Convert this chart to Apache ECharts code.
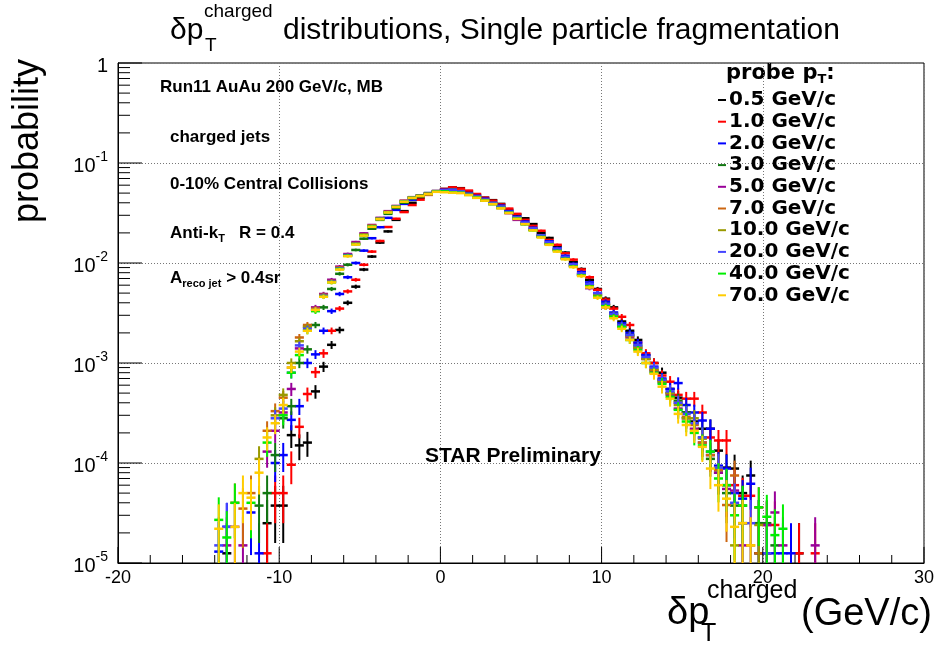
<!DOCTYPE html>
<html><head><meta charset="utf-8">
<script src="https://cdn.jsdelivr.net/npm/echarts@6/dist/echarts.min.js"></script>
<style>html,body{margin:0;padding:0;background:#fff}#c{width:937px;height:650px}</style>
</head><body><div id="c"></div>
<script>
// ---------------- data ----------------
const binCenters = [
 -13.75,-13.25,-12.75,-12.25,-11.75,-11.25,-10.75,-10.25,-9.75,-9.25,
 -8.75,-8.25,-7.75,-7.25,-6.75,-6.25,-5.75,-5.25,-4.75,-4.25,
 -3.75,-3.25,-2.75,-2.25,-1.75,-1.25,-0.75,-0.25,0.25,0.75,
 1.25,1.75,2.25,2.75,3.25,3.75,4.25,4.75,5.25,5.75,
 6.25,6.75,7.25,7.75,8.25,8.75,9.25,9.75,10.25,10.75,
 11.25,11.75,12.25,12.75,13.25,13.75,14.25,14.75,15.25,15.75,
 16.25,16.75,17.25,17.75,18.25,18.75,19.25,19.75,20.25,20.75,
 21.25,21.75,22.25,22.75,23.25];

const probeLabels = ['0.5 GeV/c','1.0 GeV/c','2.0 GeV/c','3.0 GeV/c','5.0 GeV/c','7.0 GeV/c','10.0 GeV/c','20.0 GeV/c','40.0 GeV/c','70.0 GeV/c'];
const probeColors = ['#000000','#ff0000','#0000ff','#117711','#990099','#cc6611','#999900','#4444ff','#00ee00','#ffcc00'];

const p05 = [null,1.25e-5,null,null,null,null,2.5e-5,3.75e-5,3.75e-5,1.9e-4,
 1.5e-4,1.6e-4,5.2e-4,9.2e-4,1.52e-3,2.14e-3,4.0e-3,5.8e-3,8.6e-3,1.16e-2,
 0.016,0.0207,0.027,0.033,0.040,0.045,0.049,0.052,0.055,0.057,
 0.056,0.052,0.048,0.045,0.0425,0.039,0.034,0.0305,0.028,0.0245,
 0.020,0.0178,0.0148,0.0127,0.0102,0.0087,0.0068,0.0055,0.0044,0.0036,
 0.0026,0.0021,0.0017,0.0012,0.0010,0.0008,0.00055,0.00045,0.00032,0.00026,
 0.00022,0.00022,0.000133,9e-5,8.8e-5,5e-5,7.5e-5,1.25e-5,1.25e-5,null,
 null,null,1.25e-5,null,null];
const p10 = [null,null,null,null,null,null,1.25e-5,5e-5,5e-5,9.6e-5,
 2.3e-4,4.9e-4,8.1e-4,1.25e-3,2.1e-3,3.5e-3,5.2e-3,6.8e-3,9.6e-3,0.013,
 0.0166,0.0229,0.0277,0.0323,0.038,0.043,0.048,0.052,0.055,0.057,
 0.0555,0.053,0.049,0.045,0.042,0.0385,0.035,0.031,0.027,0.0235,
 0.021,0.017,0.0152,0.0125,0.0108,0.0086,0.0072,0.0054,0.0043,0.0035,
 0.0029,0.0024,0.0016,0.00125,0.0010,0.00075,0.00065,0.00048,0.00044,0.00044,
 0.00032,0.00018,0.000168,0.000168,6e-5,4.7e-5,4.7e-5,3.6e-5,2.4e-5,2.4e-5,
 null,null,1.25e-5,null,1.25e-5];
const p20 = [1.3e-5,2.3e-5,null,null,3.2e-5,1.25e-5,null,1e-4,1.2e-4,2.7e-4,
 3.7e-4,1.0e-3,1.22e-3,2.1e-3,3.3e-3,4.9e-3,7.2e-3,0.010,0.0133,0.0177,
 0.0228,0.0283,0.034,0.039,0.043,0.047,0.050,0.0525,0.054,0.0545,
 0.052,0.050,0.047,0.044,0.040,0.0375,0.033,0.029,0.026,0.0225,
 0.019,0.0165,0.0141,0.0118,0.0098,0.0081,0.0064,0.005,0.0041,0.0032,
 0.0025,0.002,0.0016,0.0012,0.00092,0.0007,0.00055,0.00063,0.00038,0.00032,
 0.000266,0.00022,9.4e-5,8.8e-5,5e-5,4.4e-5,6.2e-5,2.5e-5,null,1.25e-5,
 1.25e-5,1.25e-5,null,null,null];
const p30 = [null,null,null,null,null,3.75e-5,5e-5,1.2e-4,2.8e-4,3.7e-4,
 1.0e-3,1.37e-3,2.4e-3,3.6e-3,5.5e-3,7.8e-3,9.6e-3,0.0135,0.0175,0.022,
 0.027,0.031,0.0355,0.040,0.0445,0.047,0.050,0.052,0.0535,0.054,
 0.051,0.049,0.0455,0.0425,0.039,0.036,0.032,0.028,0.025,0.0215,
 0.0186,0.0158,0.0136,0.0112,0.0094,0.0077,0.006,0.0048,0.0039,0.0031,
 0.0024,0.0019,0.0015,0.0011,0.00085,0.00068,0.0005,0.00042,0.00032,0.00025,
 0.00018,0.00011,8e-5,5e-5,3.75e-5,3.75e-5,null,2.5e-5,2.5e-5,1.5e-5,
 null,null,null,null,null];
const p50 = [null,1.5e-5,2.3e-5,1.5e-5,null,null,1.3e-4,2.1e-4,3.2e-4,5.5e-4,
 1.4e-3,2.3e-3,3.6e-3,4.9e-3,6.8e-3,9.2e-3,0.0123,0.0162,0.0198,0.024,
 0.0283,0.033,0.0372,0.042,0.0455,0.0475,0.0495,0.052,0.053,0.0535,
 0.0515,0.0485,0.0455,0.042,0.039,0.0355,0.0315,0.027,0.0245,0.0215,
 0.0183,0.0155,0.0135,0.0111,0.0094,0.0077,0.0056,0.0047,0.0036,0.003,
 0.0023,0.0018,0.0014,0.0011,0.00082,0.00064,0.00048,0.00035,0.00028,0.00022,
 0.00016,0.00012,8e-5,5.5e-5,5.3e-5,1.5e-5,null,null,2.4e-5,3.2e-5,
 1.5e-5,null,null,null,1.5e-5];
const p70 = [null,null,4e-5,3.5e-5,5e-5,null,2.1e-4,3.3e-4,4.5e-4,9e-4,
 1.8e-3,2.4e-3,3.5e-3,4.8e-3,6.6e-3,9.0e-3,0.012,0.0158,0.0193,0.0236,
 0.028,0.0325,0.037,0.0418,0.0455,0.0472,0.0495,0.0525,0.053,0.0535,
 0.051,0.0485,0.0452,0.0425,0.0395,0.0362,0.032,0.0282,0.025,0.0215,
 0.0185,0.0156,0.0136,0.0112,0.0095,0.0076,0.006,0.0048,0.0038,0.003,
 0.0023,0.00185,0.00142,0.0011,0.00085,0.00066,0.0005,0.0004,0.00029,0.00024,
 0.00016,0.00012,8.5e-5,3.8e-5,7.5e-5,2.5e-5,1.5e-5,1.25e-5,null,null,
 null,null,null,null,null];
const p100 = [null,null,null,null,null,1.1e-4,null,3e-4,4.8e-4,1.0e-3,
 1.65e-3,2.3e-3,3.4e-3,4.7e-3,6.5e-3,8.8e-3,0.0119,0.0156,0.019,0.0234,
 0.0277,0.0322,0.0366,0.0413,0.045,0.047,0.049,0.052,0.0532,0.0538,
 0.0515,0.049,0.046,0.0428,0.0398,0.0364,0.0322,0.0284,0.025,0.022,
 0.0188,0.016,0.0137,0.0113,0.0095,0.0077,0.006,0.0048,0.0038,0.003,
 0.0023,0.0019,0.00145,0.0011,0.00087,0.00066,0.0005,0.00038,0.00028,0.00028,
 0.000175,0.00013,9e-5,6e-5,1.5e-5,2.5e-5,null,2.4e-5,null,null,
 null,null,null,null,null];
const p200 = [1.5e-5,2.3e-5,null,null,null,null,null,2.8e-4,3.5e-4,8e-4,
 1.5e-3,2.2e-3,3.4e-3,4.7e-3,6.5e-3,8.8e-3,0.012,0.0155,0.019,0.0233,
 0.0276,0.0322,0.0366,0.0414,0.045,0.0468,0.049,0.052,0.0535,0.054,
 0.052,0.0492,0.0462,0.043,0.0398,0.0366,0.0325,0.0286,0.0254,0.0222,
 0.0189,0.0162,0.0139,0.0115,0.0097,0.0079,0.0062,0.005,0.0039,0.0031,
 0.0024,0.0019,0.0015,0.00115,0.0009,0.00068,0.00052,0.0004,0.00031,0.00025,
 0.00018,0.00013,9e-5,6e-5,4e-5,2.5e-5,2.5e-5,null,1.25e-5,null,
 null,null,null,null,null];
const p400 = [2.7e-5,1.8e-5,4e-5,null,4e-5,null,1.6e-4,null,3e-4,8e-4,
 1.2e-3,2.1e-3,3.3e-3,4.6e-3,6.4e-3,8.7e-3,0.0118,0.0154,0.019,0.0232,
 0.0275,0.032,0.0364,0.041,0.0448,0.0468,0.049,0.0518,0.052,0.051,
 0.0505,0.048,0.0452,0.0422,0.0388,0.0355,0.0318,0.0278,0.0244,0.0212,
 0.0182,0.0153,0.0132,0.011,0.0092,0.0075,0.0058,0.0046,0.0037,0.0029,
 0.0023,0.0017,0.00135,0.001,0.0008,0.00062,0.00046,0.00034,0.00026,0.0002,
 0.00015,0.00013,7e-5,6e-5,3e-5,3.75e-5,null,3.6e-5,2.9e-5,1.9e-5,
 2.2e-5,null,null,null,null];
const p700 = [2.2e-5,null,2.3e-5,5e-5,4.5e-5,8e-5,1.8e-4,2.5e-4,3.8e-4,9e-4,
 1.3e-3,2.1e-3,3.4e-3,4.6e-3,6.4e-3,8.6e-3,0.0117,0.0153,0.0188,0.023,
 0.0274,0.032,0.0363,0.041,0.0447,0.0466,0.0488,0.0515,0.051,0.0505,
 0.050,0.0478,0.0448,0.042,0.0388,0.0352,0.0316,0.0276,0.0245,0.0212,
 0.018,0.0152,0.013,0.0109,0.0091,0.0074,0.0057,0.0045,0.0036,0.0028,
 0.0022,0.0017,0.0013,0.001,0.00078,0.00058,0.00044,0.00031,0.00024,0.00021,
 0.000145,8.8e-5,6e-5,4.4e-5,2.3e-5,2.5e-5,1.5e-5,null,null,null,
 null,null,null,null,null];

const seriesValues = [p05,p10,p20,p30,p50,p70,p100,p200,p400,p700];
const ENTRIES = 80000;      // entries per histogram (for statistical error bars)
const HALF_BIN = 0.25;      // half bin width in GeV/c

const xMajorTicks = [-20,-10,0,10,20,30];
const xMinorTicks = [-18,-16,-14,-12,-8,-6,-4,-2,2,4,6,8,12,14,16,18,22,24,26,28];
const yDecades = [1e-5,1e-4,1e-3,1e-2,1e-1,1];
const yMinorMultipliers = [2,3,4,5,6,7,8,9];

const X_MIN = -20, X_MAX = 30, Y_MIN = 1e-5, Y_MAX = 1;
const FONT = 'Liberation Sans, Arial, Helvetica, sans-serif';

// ---------------- rendering ----------------
function renderCross(params, api) {
  const x = api.value(0), y = api.value(1);
  if (!(y > 0)) return null;
  const cs = params.coordSys;
  const bottom = cs.y + cs.height;
  const p = api.coord([x, y]);
  const xl = api.coord([x - HALF_BIN, y])[0];
  const xr = api.coord([x + HALF_BIN, y])[0];
  const err = Math.sqrt(y / ENTRIES);
  const yt = api.coord([x, y + err])[1];
  let yb = (y - err) > Y_MIN * 0.01 ? api.coord([x, y - err])[1] : bottom;
  yb = Math.min(yb, bottom);
  const color = api.visual('color');
  return {type: 'group', children: [
    {type: 'line', shape: {x1: xl - 0.5, y1: p[1], x2: xr + 0.5, y2: p[1]}, style: {stroke: color, lineWidth: 2.5}},
    {type: 'line', shape: {x1: p[0], y1: yt, x2: p[0], y2: yb}, style: {stroke: color, lineWidth: 2}}
  ]};
}

function renderTick(params, api) {
  const xv = api.value(0), yv = api.value(1), axis = api.value(2), major = api.value(3);
  const cs = params.coordSys;
  if (axis === 0) {
    const px = api.coord([xv, Y_MIN])[0];
    const len = major ? 16 : 8;
    const b = cs.y + cs.height;
    return {type: 'line', shape: {x1: px, y1: b, x2: px, y2: b - len}, style: {stroke: '#000', lineWidth: 1}};
  }
  const py = api.coord([X_MIN, yv])[1];
  const len = major ? 24 : 12;
  return {type: 'line', shape: {x1: cs.x, y1: py, x2: cs.x + len, y2: py}, style: {stroke: '#000', lineWidth: 1}};
}

const tickData = [];
xMajorTicks.forEach(v => tickData.push([v, Y_MIN, 0, 1]));
xMinorTicks.forEach(v => tickData.push([v, Y_MIN, 0, 0]));
yDecades.forEach(d => {
  tickData.push([X_MIN, d, 1, 1]);
  if (d < 1) yMinorMultipliers.forEach(m => tickData.push([X_MIN, m * d, 1, 0]));
});

const series = seriesValues.map((vals, k) => ({
  name: probeLabels[k],
  type: 'custom',
  renderItem: renderCross,
  clip: true,
  itemStyle: {color: probeColors[k]},
  encode: {x: 0, y: 1},
  data: binCenters.map((x, i) => [x, vals[i]]).filter(d => d[1] != null),
  z: 3 + k
}));
series.push({
  name: 'ticks', type: 'custom', renderItem: renderTick, clip: false, silent: true,
  encode: {x: 0, y: 1}, data: tickData, z: 20
});

const chart = echarts.init(document.getElementById('c'), null, {renderer: 'canvas'});

function txt(text, x, y, size, opts) {
  return Object.assign({type: 'text', x: x, y: y, silent: true, z: 50,
    style: Object.assign({text: text, fill: '#000', font: (opts && opts.bold ? 'bold ' : '') + size + 'px ' + FONT,
      align: 'left', verticalAlign: 'middle'}, opts && opts.style || {})}, opts && opts.el || {});
}

const subRich = {
  n: {fontSize: 17, fontWeight: 'bold', fontFamily: FONT, lineHeight: 17, padding: [0, 0, 0, 0]},
  sub: {fontSize: 11, fontWeight: 'bold', fontFamily: FONT, lineHeight: 11, padding: [12, 0, 0, 0]}
};

const graphics = [
  // title
  txt('δp', 170, 31, 30),
  txt('charged', 204, 12, 19),
  txt('T', 205, 46, 19),
  txt('distributions, Single particle fragmentation', 283, 31, 30),
  // y title
  {type: 'text', x: 28, y: 141, rotation: Math.PI / 2, silent: true,
   style: {text: 'probability', fill: '#000', font: '36px ' + FONT, align: 'center', verticalAlign: 'middle'}},
  // x title
  txt('δp', 667, 614, 38),
  txt('charged', 707, 591, 25),
  txt('T', 701, 634, 25),
  txt('(GeV/c)', 801, 615, 38),
  // annotations
  txt('Run11 AuAu 200 GeV/c, MB', 160, 87, 17, {bold: true}),
  txt('charged jets', 170, 137, 17, {bold: true}),
  txt('0-10% Central Collisions', 170, 184, 17, {bold: true}),
  {type: 'text', x: 170, y: 233, silent: true, style: {text: '{n|Anti-k}{sub|T}{n|   R = 0.4}', rich: subRich, fill: '#000', align: 'left', verticalAlign: 'middle'}},
  {type: 'text', x: 170, y: 278, silent: true, style: {text: '{n|A}{sub|reco jet}{n| > 0.4sr}', rich: subRich, fill: '#000', align: 'left', verticalAlign: 'middle'}},
  txt('STAR Preliminary', 425, 456, 21, {bold: true}),
  // legend header
  {type: 'text', x: 726, y: 74, silent: true, style: {text: '{a|probe p}{s|T}{a|:}', fill: '#000', align: 'left', verticalAlign: 'middle',
    rich: {a: {fontSize: 21, fontWeight: 'bold', fontFamily: 'DejaVu Sans', lineHeight: 21},
           s: {fontSize: 13, fontWeight: 'bold', fontFamily: 'DejaVu Sans', lineHeight: 13, padding: [12, 0, 0, 0]}}}}
];

chart.setOption({
  animation: false,
  backgroundColor: '#fff',
  grid: {left: 118, right: 11, top: 63, bottom: 87, show: true, borderColor: '#000', borderWidth: 1, backgroundColor: 'transparent'},
  xAxis: {
    type: 'value', min: X_MIN, max: X_MAX, interval: 10,
    axisLine: {show: true, onZero: false, lineStyle: {color: '#000', width: 1}},
    axisTick: {show: false},
    axisLabel: {color: '#000', fontSize: 18, fontFamily: FONT, margin: 6, showMinLabel: true, showMaxLabel: true},
    splitLine: {show: true, lineStyle: {color: '#777', type: [1, 2], width: 1}}
  },
  yAxis: {
    type: 'log', logBase: 10, min: Y_MIN, max: Y_MAX,
    axisLine: {show: true, onZero: false, lineStyle: {color: '#000', width: 1}},
    axisTick: {show: false},
    axisLabel: {
      color: '#000', margin: 10, showMinLabel: true, showMaxLabel: true,
      formatter: v => {
        const e = Math.round(Math.log10(v));
        if (e === 0) return '{b|1}';
        return '{b|10}{s|' + e + '}';
      },
      rich: {
        b: {fontSize: 20, fontFamily: FONT, color: '#000', lineHeight: 20, padding: [6, 0, 0, 0]},
        s: {fontSize: 14, fontFamily: FONT, color: '#000', lineHeight: 14, padding: [0, 0, 12, 0]}
      }
    },
    splitLine: {show: true, lineStyle: {color: '#777', type: [1, 2], width: 1}}
  },
  legend: {
    data: probeLabels, orient: 'vertical', left: 713, top: 85,
    icon: 'rect', itemWidth: 8, itemHeight: 2, itemGap: 1.7, selectedMode: false,
    textStyle: {color: '#000', fontFamily: 'DejaVu Sans', fontWeight: 'bold', fontSize: 20, lineHeight: 20, padding: [0, 0, 0, -2]}
  },
  series: series,
  graphic: graphics
});
</script></body></html>
